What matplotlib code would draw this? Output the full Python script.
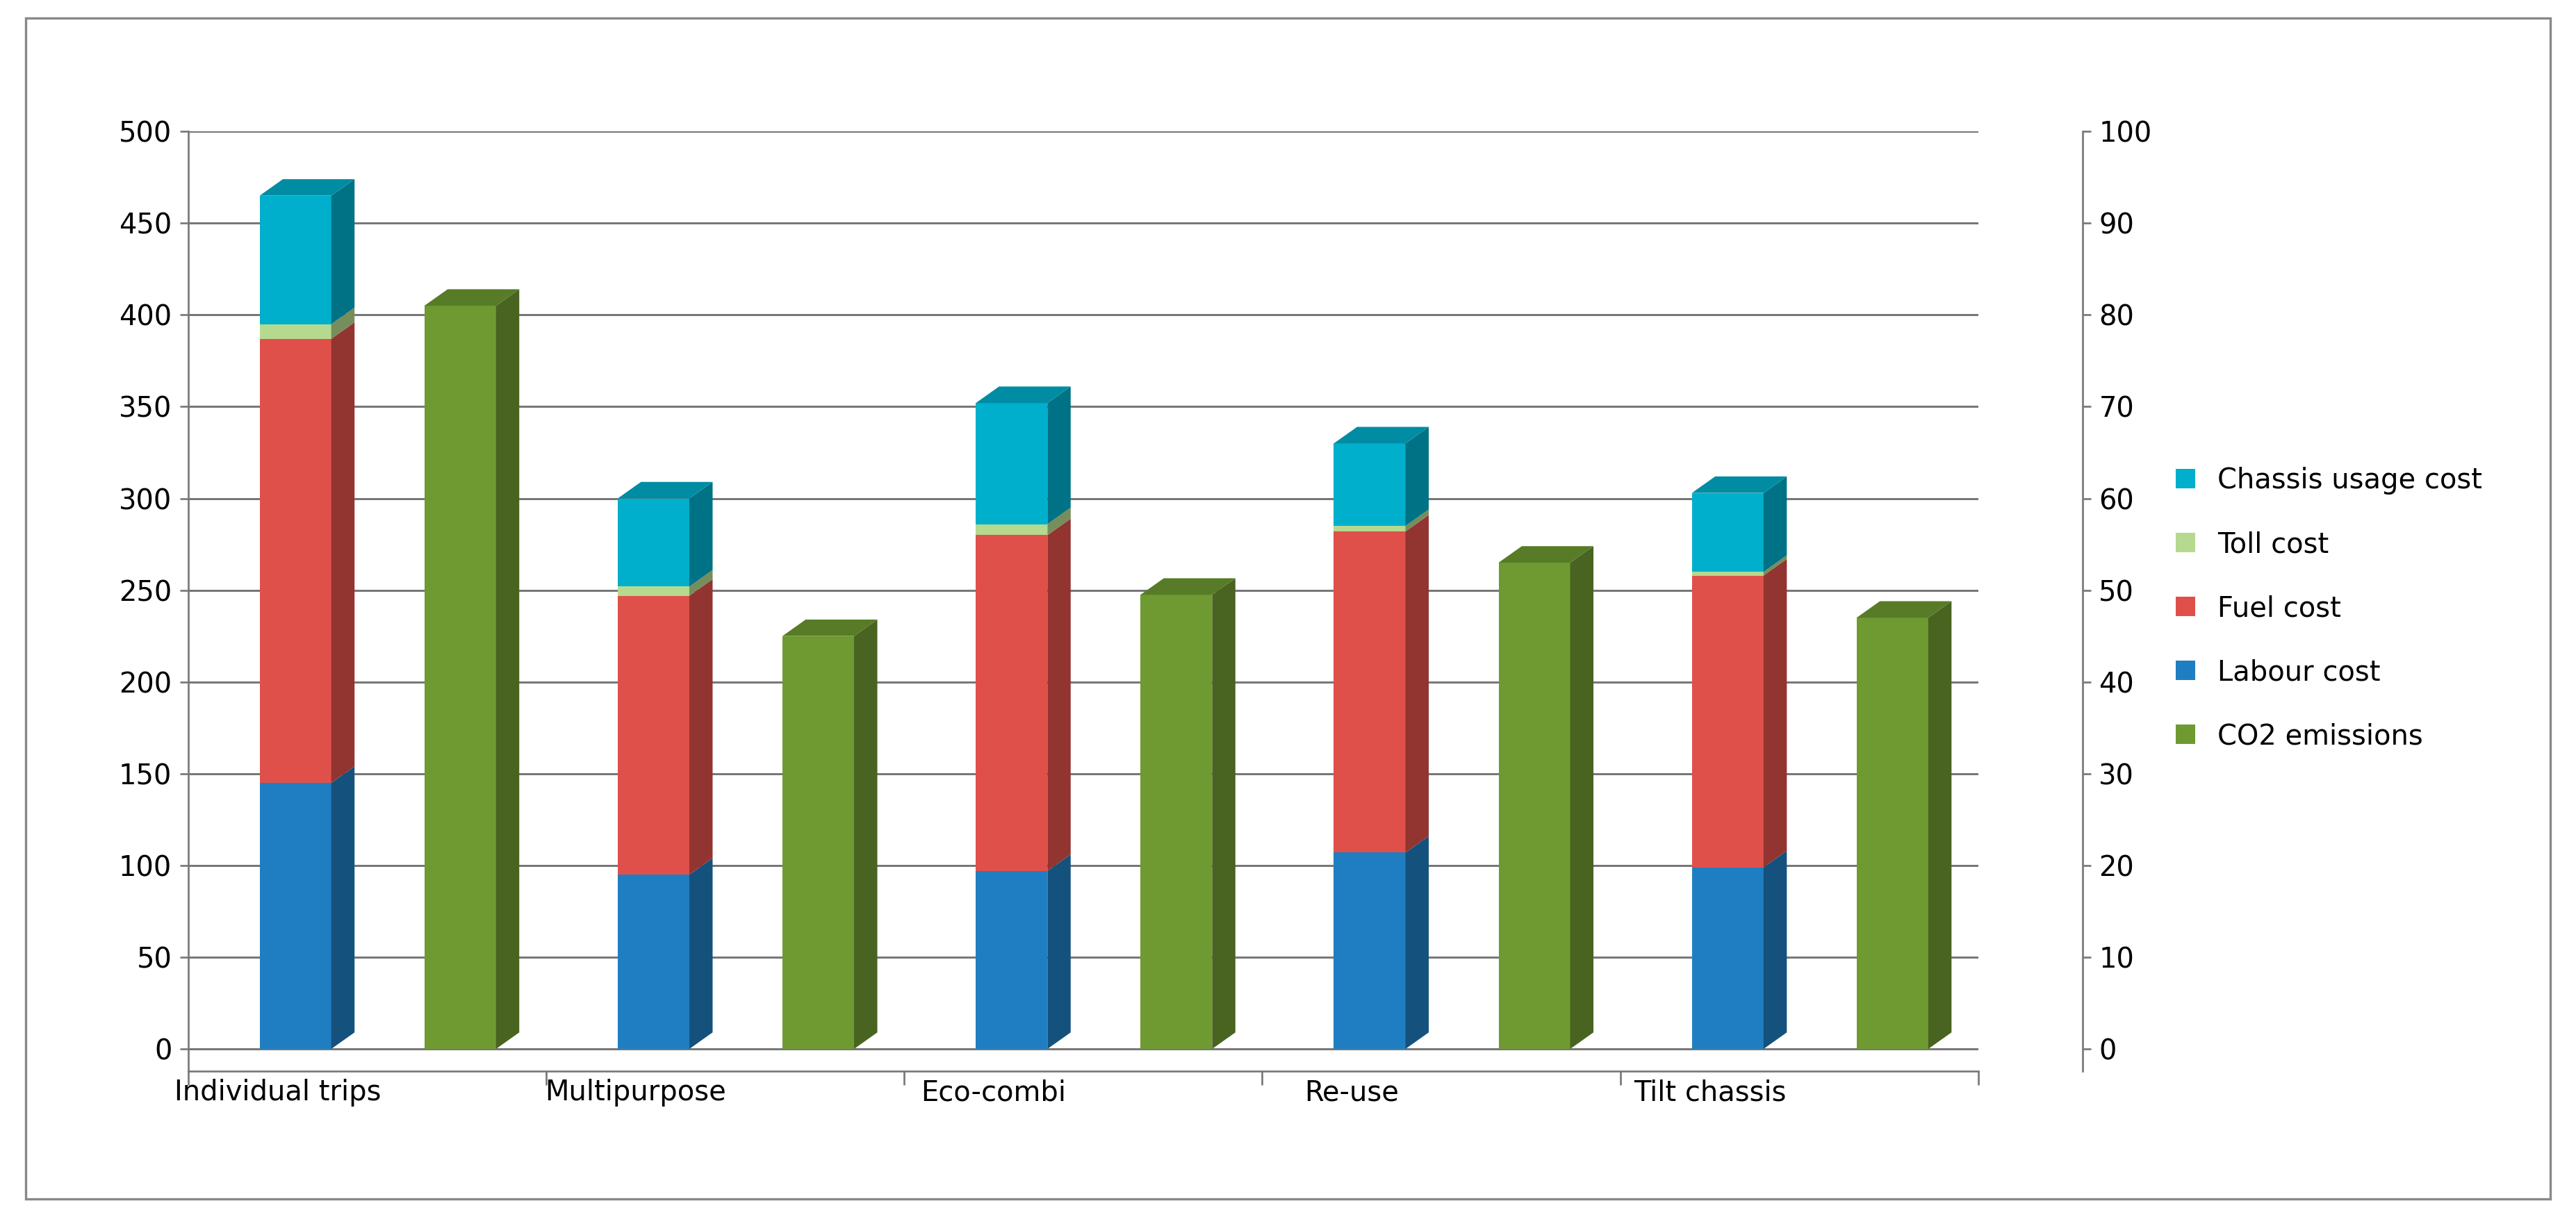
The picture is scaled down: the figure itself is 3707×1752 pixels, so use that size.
import matplotlib
matplotlib.use("Agg")
import matplotlib.pyplot as plt
from matplotlib.patches import Polygon, Rectangle
import numpy as np

categories = ["Individual trips", "Multipurpose", "Eco-combi", "Re-use", "Tilt chassis"]
labour = [145, 95, 97, 107, 99]
fuel = [242, 152, 183, 175, 159]
toll = [8, 5, 6, 3, 2]
chassis = [70, 48, 66, 45, 43]
co2 = [81, 45, 49.5, 53, 47]

c_lab, c_fuel, c_toll, c_ch, c_co2 = "#1F7EC1", "#E0504A", "#B5D98E", "#00AFCC", "#6E9A31"

def shade(c, f):
    import matplotlib.colors as mc
    r = np.array(mc.to_rgb(c)) * f
    return tuple(r)

fig = plt.figure(figsize=(3707/240, 1752/240), dpi=240)
fig.patches.append(Rectangle((0.01, 0.015), 0.98, 0.97, transform=fig.transFigure,
                             fill=False, ec="#888888", lw=1))
ax = fig.add_axes([0.073, 0.12, 0.695, 0.772])
ax2 = ax.twinx()
w = 0.2
dx = 0.065

def bar3d(a, x, y0, h, col, dy, top):
    a.add_patch(Rectangle((x - w/2, y0), w, h, fc=col, ec="none", zorder=3))
    a.add_patch(Polygon([(x + w/2, y0), (x + w/2 + dx, y0 + dy), (x + w/2 + dx, y0 + h + dy), (x + w/2, y0 + h)],
                        fc=shade(col, 0.65), ec="none", zorder=3))
    if top:
        a.add_patch(Polygon([(x - w/2, y0 + h), (x - w/2 + dx, y0 + h + dy), (x + w/2 + dx, y0 + h + dy), (x + w/2, y0 + h)],
                            fc=shade(col, 0.8), ec="none", zorder=4))

ax.set_ylim(-12, 500)
ax2.set_ylim(-2.4, 100)
ax.set_xlim(0, 5)
for i in range(5):
    x = i + 0.30
    base = 0
    segs = [(labour, c_lab), (fuel, c_fuel), (toll, c_toll), (chassis, c_ch)]
    for k, (vals, col) in enumerate(segs):
        bar3d(ax, x, base, vals[i], col, 9, k == len(segs) - 1)
        base += vals[i]
    bar3d(ax2, i + 0.76, 0, co2[i], c_co2, 1.8, True)

ax.set_yticks(np.arange(0, 501, 50))
ax2.set_yticks(np.arange(0, 101, 10))
ax.yaxis.grid(True, color="#777777", lw=0.9)
ax.set_axisbelow(True)
ax.set_xticks(np.arange(0, 6))
ax.set_xticklabels([])
ax.set_xticks(np.arange(5) + 0.25, minor=True)
ax.set_xticklabels(categories, minor=True)
ax.tick_params(axis="x", which="minor", length=0, labelsize=12)
ax.tick_params(axis="x", which="major", length=6, color="#777777")
ax.tick_params(axis="y", labelsize=12, color="#777777")
ax2.tick_params(axis="y", labelsize=12, color="#777777")
for a in (ax, ax2):
    for s in a.spines.values():
        s.set_visible(False)
ax.spines["left"].set_visible(True); ax.spines["left"].set_color("#777777")
ax.spines["bottom"].set_visible(True); ax.spines["bottom"].set_color("#777777")
ax2.spines["right"].set_visible(True); ax2.spines["right"].set_color("#777777")
ax2.spines["right"].set_position(("outward", 45))

handles = [Rectangle((0, 0), 1, 1, fc=c) for c in [c_ch, c_toll, c_fuel, c_lab, c_co2]]
labels = ["Chassis usage cost", "Toll cost", "Fuel cost", "Labour cost", "CO2 emissions"]
fig.legend(handles, labels, loc="center left", bbox_to_anchor=(0.835, 0.5), frameon=False,
           fontsize=12, handlelength=0.7, handleheight=0.7, labelspacing=1.3)
fig.savefig("out.png", dpi=240)
